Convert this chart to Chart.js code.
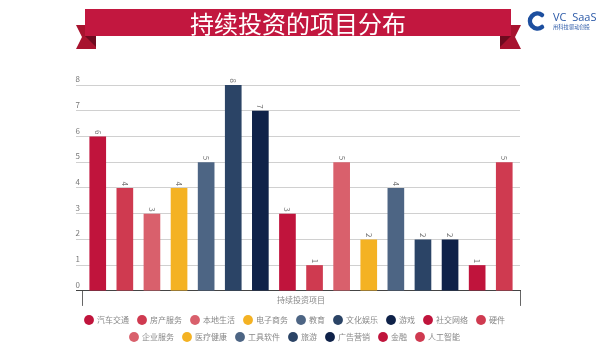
<!DOCTYPE html>
<html><head><meta charset="utf-8">
<script src="https://cdn.jsdelivr.net/npm/chart.js@4"></script>
<style>
html,body{margin:0;padding:0;background:#fff;}
#wrap{position:relative;width:600px;height:357px;overflow:hidden;font-family:"Noto Sans CJK SC",sans-serif;}
#c{position:absolute;left:0;top:0;}
#deco{position:absolute;left:0;top:0;z-index:1;}
.band{position:absolute;left:85px;top:9px;width:426px;height:27px;background:#c2173f;color:#fff;font-size:24px;line-height:27px;text-align:center;z-index:2;white-space:nowrap;}
.logo1{position:absolute;left:553px;top:10px;font-size:11px;line-height:13px;color:#2c5aa8;font-family:"Open Sans",sans-serif;z-index:2;white-space:nowrap;}
.logo2{position:absolute;left:553px;top:24px;font-size:5.3px;line-height:6px;color:#2c5aa8;z-index:2;white-space:nowrap;}
</style></head>
<body>
<div id="wrap">
<canvas id="c" width="600" height="357"></canvas>
<svg id="deco" width="600" height="60">
  <polygon points="76,25 96,25 96,49 76,49 82,37" fill="#a8132f"/>
  <polygon points="85,36 96,36 96,47" fill="#6e0a1f"/>
  <polygon points="521,25 500,25 500,49 521,49 515,37" fill="#a8132f"/>
  <polygon points="511,36 500,36 500,47" fill="#6e0a1f"/>
  <path d="M542,15 A7.5,7.5 0 1 0 542,27" fill="none" stroke="#1d4f9f" stroke-width="4.5" stroke-linecap="round"/>
</svg>
<div class="band">持续投资的项目分布</div>
<div class="logo1">VC&nbsp; SaaS</div>
<div class="logo2">用科技驱动创投</div>
</div>
<script>
const categories = ['持续投资项目'];
const seriesNames = ['汽车交通','房产服务','本地生活','电子商务','教育','文化娱乐','游戏','社交网络','硬件','企业服务','医疗健康','工具软件','旅游','广告营销','金融','人工智能'];
const seriesValues = [6,4,3,4,5,8,7,3,1,5,2,4,2,2,1,5];
const seriesColors = ['#c0143c','#cf3a50','#d9606c','#f4b223','#4d6584','#2b4466','#0f2249','#c0143c','#cf3a50','#d9606c','#f4b223','#4d6584','#2b4466','#0f2249','#c0143c','#cf3a50'];
const yMin = 0, yMax = 8, yStep = 1;
const axisTitle = '持续投资项目';

const FONT = '"Noto Sans CJK SC", sans-serif';

const valueLabels = {
  id:'valueLabels',
  afterDatasetsDraw(chart){
    const ctx = chart.ctx;
    chart.data.datasets.forEach((ds,i)=>{
      const meta = chart.getDatasetMeta(i);
      meta.data.forEach((bar,j)=>{
        ctx.save();
        ctx.translate(bar.x, bar.y-2);
        ctx.rotate(Math.PI/2);
        ctx.font = '8px ' + FONT;
        ctx.fillStyle = '#777';
        ctx.textAlign = 'right';
        ctx.textBaseline = 'middle';
        ctx.fillText(String(ds.data[j]),0,0);
        ctx.restore();
      });
    });
  }
};

const datasets = seriesNames.map((name,i)=>({
  label: name,
  data: [seriesValues[i]],
  backgroundColor: seriesColors[i],
  borderWidth: 0,
  categoryPercentage: 0.99,
  barPercentage: 0.615
}));

new Chart(document.getElementById('c'), {
  type:'bar',
  data:{ labels: categories, datasets },
  options:{
    responsive:false,
    animation:false,
    layout:{padding:{left:70,right:80,top:85,bottom:6}},
    plugins:{
      legend:{
        position:'bottom',
        labels:{usePointStyle:true,pointStyle:'circle',boxWidth:8,boxHeight:7,padding:9,color:'#888',font:{size:8,family:FONT}}
      },
      tooltip:{enabled:false}
    },
    scales:{
      x:{
        grid:{offset:true,drawOnChartArea:false,drawTicks:true,tickLength:15,color:'#666'},
        border:{display:true,color:'#444'},
        ticks:{display:false},
        title:{display:true,text:axisTitle,color:'#888',font:{size:8,family:FONT},padding:{top:-11,bottom:2.5}}
      },
      y:{
        min:yMin,max:yMax,
        ticks:{stepSize:yStep,color:'#777',font:{size:8,family:FONT},padding:-4,labelOffset:-6},
        grid:{color:c=>(c.tick && c.tick.value===0)?'#444':'#d0d0d0',tickLength:6},
        border:{display:false},
        afterFit(s){ s.width = 12; }
      }
    }
  },
  plugins:[valueLabels]
});
</script>
</body></html>
